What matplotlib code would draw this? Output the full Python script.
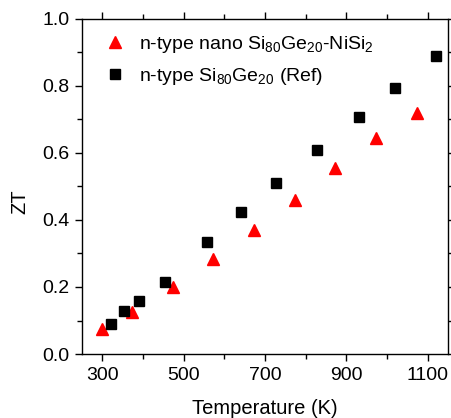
import matplotlib
matplotlib.use("Agg")
import matplotlib.pyplot as plt
from matplotlib.ticker import MultipleLocator

# nano composite (red triangles)
temp_nano = [300, 373, 473, 573, 673, 773, 873, 973, 1073]
zt_nano = [0.075, 0.125, 0.200, 0.285, 0.370, 0.460, 0.555, 0.645, 0.718]

# reference alloy (black squares)
temp_ref = [321, 352, 391, 453, 558, 641, 727, 827, 931, 1020, 1120]
zt_ref = [0.090, 0.127, 0.158, 0.216, 0.333, 0.423, 0.510, 0.609, 0.707,
          0.795, 0.889]

x_ticks = [300, 500, 700, 900, 1100]


def main():
    plt.rcParams['font.family'] = ['Liberation Sans', 'DejaVu Sans']
    plt.rcParams['mathtext.fontset'] = 'custom'
    plt.rcParams['mathtext.rm'] = 'Liberation Sans'
    plt.rcParams['mathtext.it'] = 'Liberation Sans'
    plt.rcParams['mathtext.default'] = 'regular'

    fig = plt.figure(figsize=(4.51, 4.18), dpi=100)
    ax = fig.add_axes([0.182, 0.153, 0.811, 0.802])

    ax.plot(temp_nano, zt_nano, linestyle='none', marker='^', color='#ff0000',
            markersize=8.5, label='n-type nano Si$_{80}$Ge$_{20}$-NiSi$_{2}$')
    ax.plot(temp_ref, zt_ref, linestyle='none', marker='s', color='black',
            markersize=6.5, label='n-type Si$_{80}$Ge$_{20}$ (Ref)')

    ax.set_xlim(250, 1150)
    ax.set_ylim(0, 1.0)
    ax.set_xticks(x_ticks)
    ax.xaxis.set_minor_locator(MultipleLocator(100))
    ax.yaxis.set_major_locator(MultipleLocator(0.2))
    ax.yaxis.set_minor_locator(MultipleLocator(0.1))
    ax.yaxis.set_major_formatter(plt.FormatStrFormatter('%.1f'))

    ax.tick_params(which='both', direction='out', top=True, right=True,
                   labelsize=14, width=1)
    ax.tick_params(which='major', length=5, pad=4)
    ax.tick_params(which='minor', length=3.4)
    for side in ax.spines.values():
        side.set_linewidth(1)

    ax.set_xlabel('Temperature (K)', fontsize=14.5, labelpad=11)
    ax.set_ylabel('ZT', fontsize=14.5)
    ax.yaxis.set_label_coords(-0.145, 0.455)

    ax.legend(loc='upper left', bbox_to_anchor=(0.005, 0.99), frameon=False,
              fontsize=14, handletextpad=0.25, labelspacing=0.55,
              borderaxespad=0.2)

    fig.savefig('out.png', dpi=100)


if __name__ == "__main__":
    main()
